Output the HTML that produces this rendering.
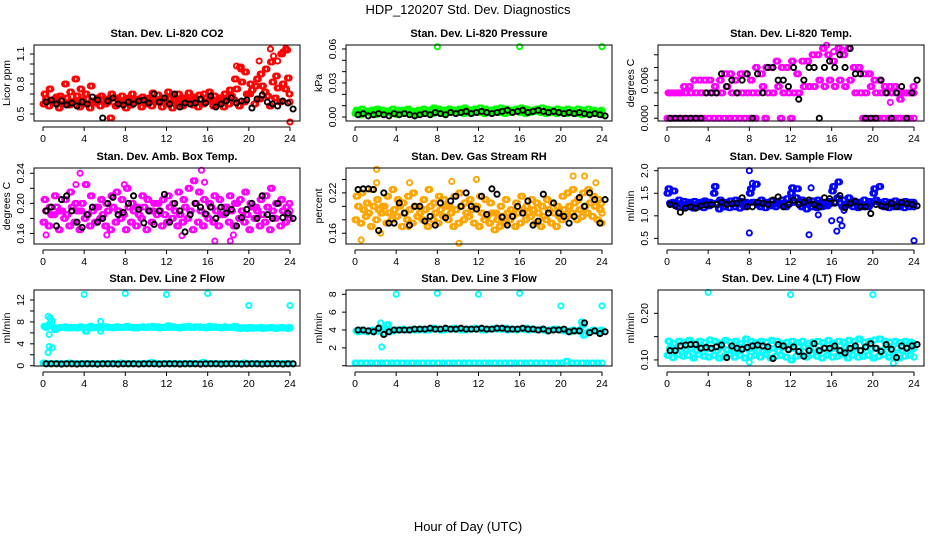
<!DOCTYPE html>
<html><head><meta charset="utf-8"><style>
html,body{margin:0;padding:0;background:#fff;}
svg{display:block;font-family:"Liberation Sans",Arial,sans-serif;}
</style></head><body>
<svg id="chart" width="936" height="540" viewBox="0 0 936 540">
<rect width="936" height="540" fill="#fff"/>
<text x="468" y="14" font-size="13" text-anchor="middle">HDP_120207  Std. Dev. Diagnostics</text>
<text x="468" y="531" font-size="13" text-anchor="middle">Hour of Day (UTC)</text>
<g id="plots"></g>
</svg>
<script>
const hoursA=[0,0.5,1,1.5,2,2.5,3,3.5,4,4.5,5,5.5,6,6.5,7,7.5,8,8.5,9,9.5,10,10.5,11,11.5,12,12.5,13,13.5,14,14.5,15,15.5,16,16.5,17,17.5,18,18.5,19,19.5,20,20.5,21,21.5,22,22.5,23,23.5,24];
const hoursB=[0.25,0.75,1.25,1.75,2.25,2.75,3.25,3.75,4.25,4.75,5.25,5.75,6.25,6.75,7.25,7.75,8.25,8.75,9.25,9.75,10.25,10.75,11.25,11.75,12.25,12.75,13.25,13.75,14.25,14.75,15.25,15.75,16.25,16.75,17.25,17.75,18.25,18.75,19.25,19.75,20.25,20.75,21.25,21.75,22.25,22.75,23.25,23.75,24];
const hoursC=[0.1,0.6,1.1,1.6,2.1,2.6,3.1,3.6,4.1,4.6,5.1,5.6,6.1,6.6,7.1,7.6,8.1,8.6,9.1,9.6,10.1,10.6,11.1,11.6,12.1,12.6,13.1,13.6,14.1,14.6,15.1,15.6,16.1,16.6,17.1,17.6,18.1,18.6,19.1,19.6,20.1,20.6,21.1,21.6,22.1,22.6,23.1,23.6,23.9];

// Panel 1: CO2
const co2Upper=[0.70,0.75,0.65,0.68,0.80,0.72,0.85,0.75,0.70,0.78,0.62,0.68,0.65,0.70,0.66,0.68,0.64,0.70,0.63,0.67,0.65,0.71,0.69,0.66,0.72,0.68,0.70,0.66,0.71,0.67,0.69,0.70,0.72,0.68,0.66,0.70,0.74,0.85,0.97,0.92,0.80,0.78,0.90,0.95,1.02,0.88,1.10,1.14,0.70];
const co2Lower=[0.60,0.58,0.62,0.56,0.60,0.59,0.63,0.57,0.60,0.56,0.61,0.58,0.60,0.46,0.58,0.61,0.56,0.59,0.62,0.57,0.60,0.58,0.62,0.57,0.60,0.56,0.61,0.58,0.62,0.59,0.57,0.60,0.63,0.58,0.61,0.57,0.60,0.64,0.58,0.62,0.70,0.60,0.65,0.72,0.58,0.66,0.62,0.75,0.42];
const co2Mid=[0.65,0.63,0.67,0.64,0.66,0.62,0.68,0.64,0.65,0.63,0.66,0.64,0.62,0.66,0.64,0.63,0.66,0.64,0.65,0.62,0.66,0.64,0.63,0.65,0.66,0.63,0.64,0.66,0.63,0.65,0.64,0.66,0.65,0.63,0.64,0.66,0.68,0.75,0.82,0.70,0.74,0.85,0.78,0.68,0.82,0.76,0.80,0.86,0.62];
const co2OutX=[22.1,22.4,22.8,23.3,23.6,18.8,19.2,21.0];
const co2OutY=[1.15,1.08,1.03,1.12,1.16,0.98,0.95,1.03];
const co2Black=[0.62,0.64,0.60,0.63,0.59,0.61,0.58,0.62,0.60,0.67,0.64,0.46,0.63,0.66,0.60,0.59,0.62,0.60,0.63,0.64,0.61,0.70,0.62,0.66,0.60,0.70,0.57,0.61,0.60,0.61,0.65,0.61,0.68,0.57,0.60,0.63,0.66,0.61,0.63,0.64,0.56,0.65,0.69,0.62,0.60,0.58,0.63,0.61,0.55];

// Panel 2: Pressure
const presUpper=[0.006,0.007,0.005,0.006,0.007,0.006,0.005,0.007,0.006,0.006,0.007,0.005,0.006,0.007,0.006,0.008,0.007,0.006,0.007,0.006,0.007,0.008,0.006,0.007,0.008,0.007,0.006,0.007,0.008,0.007,0.006,0.007,0.008,0.007,0.006,0.007,0.008,0.007,0.006,0.007,0.006,0.007,0.006,0.007,0.006,0.007,0.006,0.005,0.006];
const presLower=[0.003,0.002,0.004,0.003,0.002,0.003,0.004,0.003,0.002,0.003,0.004,0.003,0.002,0.003,0.004,0.003,0.004,0.003,0.004,0.005,0.004,0.003,0.004,0.005,0.004,0.003,0.004,0.005,0.004,0.003,0.004,0.005,0.004,0.003,0.004,0.005,0.004,0.003,0.004,0.003,0.004,0.003,0.004,0.003,0.002,0.003,0.004,0.003,0.002];
const presMid=[0.005,0.004,0.005,0.004,0.005,0.004,0.005,0.004,0.005,0.004,0.005,0.004,0.005,0.004,0.005,0.006,0.005,0.006,0.005,0.006,0.005,0.006,0.005,0.006,0.005,0.006,0.005,0.006,0.005,0.006,0.005,0.006,0.005,0.006,0.005,0.006,0.005,0.006,0.005,0.004,0.005,0.004,0.005,0.004,0.005,0.004,0.005,0.004,0.004];
const presOutX=[8,16,24];
const presOutY=[0.062,0.062,0.062];
const presBlack=[0.002,0.003,0.001,0.002,0.003,0.002,0.001,0.003,0.002,0.003,0.002,0.001,0.002,0.003,0.002,0.004,0.003,0.002,0.004,0.003,0.004,0.005,0.003,0.004,0.005,0.004,0.003,0.004,0.005,0.006,0.004,0.005,0.006,0.004,0.005,0.006,0.005,0.004,0.005,0.004,0.003,0.004,0.003,0.004,0.003,0.002,0.003,0.002,0.001];

// Panel 3: Li-820 Temp
const tempArch=[0.004,0.004,0.004,0.005,0.005,0.006,0.006,0.006,0.006,0.005,0.006,0.007,0.007,0.006,0.007,0.007,0.006,0.008,0.007,0.008,0.008,0.009,0.008,0.008,0.009,0.007,0.009,0.009,0.010,0.010,0.011,0.010,0.009,0.011,0.010,0.011,0.008,0.008,0.007,0.007,0.006,0.006,0.005,0.005,0.005,0.003,0.004,0.004,0.005];
const tempBase=[0.004,0.004,0.004,0.004,0.004,0.004,0.004,0.004,0.004,0.004,0.004,0.005,0.004,0.004,0.004,0.004,0.004,0.004,0.005,0.004,0.004,0.005,0.004,0.004,0.004,0.004,0.005,0.005,0.005,0.006,0.005,0.006,0.005,0.006,0.005,0.006,0.004,0.004,0.004,0.005,0.004,0.004,0.004,0.004,0.004,0.004,0.004,0.004,0.004];
const tempZero=[0,0,0,0,0,0,0,0,0,0,0,0,0,0,0,0,0,0,null,0,null,null,0,null,0,null,null,null,null,null,null,null,null,null,null,null,null,null,0,0,0,0,0,0,0,0,0,0,0];
const tempOutX=[21.7,16.2,15.5,17.0];
const tempOutY=[0.0025,0.0105,0.0115,0.0108];
const tempBlack=[0,0,0,0,0,0,0,0.004,0.004,0.004,0.007,0.005,0.006,0.004,0.006,0.007,0,0.007,0.004,0.008,0.008,0.006,0.006,0.005,0.008,0.003,0.006,0.008,0.008,0,0.008,0.009,0.008,0.010,0.008,0.011,0.007,0.007,0,0,0,0.006,0.004,0,0.004,0.005,0,0.004,0.006];

// Panel 4: Amb Box Temp
const ambUpper=[0.205,0.195,0.21,0.19,0.205,0.215,0.2,0.19,0.225,0.21,0.195,0.205,0.2,0.21,0.215,0.205,0.22,0.2,0.195,0.21,0.205,0.19,0.2,0.205,0.21,0.2,0.215,0.205,0.22,0.23,0.215,0.205,0.2,0.21,0.205,0.195,0.21,0.2,0.205,0.215,0.2,0.195,0.205,0.21,0.22,0.2,0.205,0.195,0.2];
const ambLower=[0.175,0.17,0.185,0.165,0.18,0.17,0.175,0.165,0.18,0.17,0.175,0.18,0.17,0.165,0.175,0.18,0.165,0.175,0.17,0.18,0.165,0.175,0.185,0.17,0.175,0.18,0.17,0.175,0.18,0.165,0.175,0.17,0.18,0.175,0.17,0.185,0.175,0.17,0.18,0.175,0.165,0.18,0.17,0.175,0.165,0.18,0.17,0.175,0.18];
const ambMid=[0.19,0.185,0.195,0.19,0.185,0.195,0.19,0.2,0.185,0.19,0.195,0.185,0.19,0.195,0.19,0.185,0.195,0.19,0.185,0.195,0.19,0.2,0.19,0.185,0.195,0.19,0.185,0.195,0.19,0.2,0.19,0.185,0.195,0.19,0.185,0.195,0.19,0.2,0.19,0.185,0.195,0.19,0.185,0.195,0.19,0.2,0.19,0.185,0.19];
const ambOutX=[0.3,3.2,3.6,15.4,15.7,16.7,13.5,18.2,18.5,7.9,6.2];
const ambOutY=[0.158,0.225,0.24,0.244,0.228,0.15,0.157,0.15,0.158,0.225,0.158];
const ambBlack=[0.19,0.195,0.17,0.205,0.21,0.19,0.175,0.168,0.185,0.195,0.175,0.18,0.2,0.208,0.185,0.188,0.2,0.21,0.192,0.174,0.19,0.172,0.19,0.212,0.175,0.2,0.19,0.162,0.185,0.2,0.195,0.186,0.195,0.18,0.195,0.187,0.192,0.17,0.181,0.192,0.2,0.18,0.21,0.185,0.18,0.2,0.181,0.187,0.18];

// Panel 5: Gas Stream RH
const rhUpper=[0.215,0.22,0.205,0.225,0.21,0.2,0.215,0.225,0.21,0.205,0.215,0.22,0.2,0.21,0.225,0.205,0.215,0.21,0.2,0.215,0.22,0.205,0.21,0.2,0.215,0.21,0.205,0.19,0.2,0.21,0.195,0.205,0.215,0.2,0.21,0.205,0.2,0.21,0.205,0.2,0.215,0.22,0.225,0.21,0.22,0.225,0.215,0.21,0.205];
const rhLower=[0.18,0.175,0.185,0.17,0.18,0.19,0.175,0.18,0.185,0.17,0.18,0.175,0.185,0.18,0.17,0.18,0.175,0.185,0.18,0.17,0.175,0.18,0.185,0.175,0.17,0.18,0.175,0.165,0.17,0.175,0.18,0.17,0.175,0.18,0.185,0.175,0.17,0.18,0.175,0.17,0.18,0.185,0.19,0.18,0.185,0.19,0.185,0.18,0.175];
const rhMid=[0.2,0.195,0.19,0.2,0.195,0.2,0.19,0.195,0.2,0.19,0.195,0.2,0.19,0.195,0.2,0.19,0.195,0.2,0.19,0.195,0.2,0.19,0.195,0.2,0.19,0.185,0.19,0.18,0.185,0.19,0.185,0.19,0.195,0.19,0.195,0.19,0.185,0.195,0.19,0.185,0.195,0.2,0.205,0.195,0.2,0.205,0.2,0.195,0.19];
const rhOutX=[0.6,2.1,2.1,5.3,9.4,11.8,10.1,22.3,21.2,23.4,5.2,2.5];
const rhOutY=[0.15,0.255,0.235,0.235,0.237,0.24,0.145,0.245,0.245,0.235,0.17,0.16];
const rhBlack=[0.225,0.226,0.226,0.225,0.164,0.22,0.175,0.175,0.205,0.19,0.172,0.2,0.2,0.178,0.185,0.172,0.205,0.183,0.208,0.215,0.2,0.22,0.2,0.196,0.215,0.188,0.226,0.218,0.184,0.172,0.185,0.2,0.19,0.208,0.172,0.178,0.218,0.19,0.205,0.19,0.185,0.175,0.185,0.213,0.2,0.22,0.21,0.175,0.21];

// Panel 6: Sample Flow
const sfUpper=[1.6,1.55,1.35,1.32,1.3,1.32,1.3,1.33,1.3,1.65,1.35,1.3,1.33,1.35,1.32,1.3,1.6,1.7,1.35,1.3,1.33,1.32,1.35,1.38,1.62,1.6,1.35,1.3,1.33,1.35,1.3,1.32,1.65,1.75,1.35,1.4,1.33,1.3,1.35,1.32,1.6,1.65,1.32,1.3,1.33,1.3,1.32,1.3,1.3];
const sfLower=[1.5,1.3,1.2,1.18,1.2,1.17,1.2,1.18,1.22,1.5,1.15,1.2,1.18,1.2,1.17,1.2,1.5,1.3,1.2,1.18,1.22,1.2,1.25,1.2,1.5,1.4,1.2,1.15,1.2,1.18,1.2,1.22,1.55,1.4,1.2,1.25,1.2,1.18,1.2,1.2,1.5,1.3,1.2,1.18,1.2,1.2,1.18,1.2,1.2];
const sfMid=[1.28,1.25,1.27,1.26,1.28,1.25,1.27,1.3,1.25,1.28,1.25,1.27,1.26,1.28,1.25,1.27,1.3,1.25,1.28,1.26,1.25,1.27,1.28,1.26,1.3,1.28,1.25,1.27,1.26,1.28,1.25,1.27,1.3,1.28,1.25,1.27,1.28,1.26,1.25,1.27,1.35,1.28,1.25,1.27,1.26,1.28,1.25,1.27,1.25];
const sfOutX=[8,8,8.3,13.8,14,14.7,16,16.5,16.8,17,17.2,24];
const sfOutY=[0.62,2.0,1.72,0.58,1.62,1.02,0.89,0.66,0.91,0.78,1.12,0.45];
const sfBlack=[1.25,1.22,1.08,1.17,1.2,1.17,1.22,1.24,1.25,1.25,1.3,1.25,1.27,1.28,1.4,1.2,1.2,1.3,1.28,1.25,1.35,1.42,1.2,1.25,1.35,1.25,1.3,1.35,1.25,1.2,1.4,1.38,1.28,1.45,1.18,1.28,1.32,1.2,1.2,1.05,1.25,1.22,1.2,1.28,1.2,1.3,1.27,1.25,1.22];

// Panel 7: Line 2 Flow
const l2High=[7.2,7.6,6.6,7,7.1,6.9,7,7.1,6.3,7.2,7,6.9,7.1,7,7.1,7,7.2,7,6.9,7.1,7,7.2,7.1,7,7.3,7.1,7,7.1,7.2,7,7.1,7,7.2,7.1,7,7.1,7,7.2,6.8,6.9,7,6.9,7,6.9,7,6.8,7,6.9,7];
const l2Low=[0.5,0.4,0.4,0.4,0.4,0.5,0.4,0.4,0.4,0.4,0.4,0.4,0.4,0.4,0.4,0.5,0.4,0.4,0.4,0.4,0.4,0.6,0.4,0.4,0.4,0.4,0.4,0.4,0.4,0.4,0.4,0.6,0.4,0.4,0.4,0.4,0.4,0.4,0.4,0.5,0.4,0.4,0.4,0.4,0.4,0.4,0.4,0.4,0.4];
const l2Mid=[7.0,7.3,6.8,7.0,6.9,7.0,6.9,7.0,7.0,6.9,7.0,7.1,7.0,6.9,7.0,7.0,7.0,6.9,7.0,7.0,7.1,7.0,6.9,7.0,7.0,7.0,6.9,7.0,7.0,7.1,7.0,6.9,7.0,7.0,6.9,7.0,7.0,6.9,6.9,6.8,6.9,6.9,6.8,6.9,6.9,6.9,6.9,6.8,6.9];
const l2OutX=[4,8,12,16,20,24,0.5,0.7,0.9,0.6,0.6,0.5,0.9,5.6,5.6];
const l2OutY=[13,13.2,13,13.2,11,11,9,8.7,8.2,5.7,3.5,2.4,3.3,6.3,8.1];
const l2Black=[0.35,0.35,0.35,0.3,0.35,0.35,0.3,0.35,0.35,0.35,0.3,0.35,0.35,0.35,0.3,0.35,0.35,0.35,0.3,0.35,0.35,0.35,0.3,0.35,0.35,0.35,0.3,0.35,0.35,0.35,0.3,0.35,0.35,0.35,0.3,0.35,0.35,0.35,0.3,0.35,0.35,0.35,0.3,0.35,0.35,0.35,0.3,0.35,0.35];

// Panel 8: Line 3 Flow
const l3High=[3.9,4.0,3.8,4.0,3.9,4.1,4.6,3.9,4.0,4.1,4.0,4.1,4.0,4.1,4.0,4.2,4.1,4.0,4.1,4.2,4.1,4.0,4.1,4.2,4.1,4.0,4.1,4.2,4.1,4.2,4.1,4.0,4.1,4.2,4.1,4.0,4.1,3.9,4.0,4.1,4.0,3.9,4.0,3.9,4.6,3.8,4.0,3.9,4.0];
const l3Low=[0.3,0.3,0.3,0.3,0.3,0.3,0.3,0.3,0.3,0.3,0.3,0.3,0.3,0.3,0.3,0.3,0.3,0.3,0.3,0.3,0.3,0.3,0.3,0.3,0.3,0.3,0.3,0.3,0.3,0.3,0.3,0.3,0.3,0.3,0.3,0.3,0.3,0.3,0.3,0.3,0.3,0.5,0.3,0.3,0.3,0.3,0.3,0.3,0.3];
const l3Mid=[3.8,3.9,3.9,3.8,4.0,3.6,3.8,4.0,4.0,4.0,4.0,4.0,4.1,4.0,4.1,4.1,4.0,4.1,4.1,4.1,4.0,4.1,4.1,4.1,4.0,4.1,4.1,4.1,4.1,4.0,4.1,4.1,4.1,4.0,4.1,4.0,4.0,4.0,4.1,4.0,3.9,3.8,3.9,4.0,3.5,3.8,3.9,3.8,3.9];
const l3OutX=[4,8,12,16,20,24,2.6,2.5,22,22.2];
const l3OutY=[8,8.1,8,8.1,6.7,6.7,2.1,4.8,4.9,3.4];
const l3Black=[4.0,4.0,3.9,3.8,4.2,3.5,3.8,4.0,4.0,4.0,4.0,4.1,4.1,4.1,4.2,4.1,4.1,4.2,4.1,4.1,4.2,4.1,4.1,4.1,4.2,4.1,4.1,4.2,4.2,4.1,4.1,4.1,4.2,4.1,4.1,4.0,4.1,3.9,4.0,4.0,4.1,3.8,3.9,3.9,4.8,3.7,3.9,3.6,3.8];

// Panel 9: Line 4 (LT) Flow
const l4Upper=[0.14,0.135,0.14,0.138,0.142,0.135,0.14,0.137,0.143,0.14,0.135,0.142,0.138,0.14,0.135,0.145,0.14,0.137,0.14,0.138,0.142,0.14,0.135,0.138,0.14,0.137,0.14,0.135,0.138,0.14,0.137,0.142,0.136,0.14,0.138,0.142,0.14,0.145,0.138,0.14,0.143,0.145,0.14,0.138,0.14,0.137,0.14,0.138,0.135];
const l4Lower=[0.11,0.105,0.112,0.108,0.11,0.104,0.112,0.108,0.106,0.11,0.104,0.108,0.112,0.106,0.11,0.104,0.108,0.11,0.106,0.112,0.104,0.108,0.11,0.106,0.1,0.108,0.11,0.106,0.112,0.108,0.104,0.11,0.106,0.108,0.112,0.104,0.11,0.106,0.108,0.11,0.104,0.108,0.112,0.106,0.11,0.104,0.108,0.11,0.106];
const l4Mid=[0.125,0.12,0.128,0.122,0.125,0.12,0.127,0.123,0.125,0.12,0.128,0.122,0.125,0.12,0.127,0.123,0.125,0.12,0.128,0.122,0.125,0.12,0.127,0.123,0.125,0.12,0.128,0.122,0.125,0.12,0.127,0.123,0.125,0.12,0.128,0.122,0.125,0.12,0.127,0.123,0.125,0.12,0.128,0.122,0.125,0.12,0.127,0.123,0.125];
const l4OutX=[4,12,20,22,0.2,8];
const l4OutY=[0.245,0.24,0.24,0.093,0.14,0.095];
const l4Black=[0.12,0.12,0.13,0.132,0.133,0.133,0.125,0.127,0.125,0.128,0.132,0.105,0.13,0.125,0.123,0.127,0.13,0.132,0.13,0.128,0.103,0.133,0.13,0.122,0.128,0.118,0.108,0.12,0.135,0.12,0.125,0.125,0.13,0.12,0.115,0.125,0.13,0.12,0.128,0.135,0.125,0.118,0.133,0.123,0.105,0.13,0.125,0.13,0.133];

const xTicks=[0,4,8,12,16,20,24];

const panels=[
 {id:'co2',title:'Stan. Dev. Li-820 CO2',ylab:'Licor ppm',col:0,row:0,color:'#ff0000',yMin:0.43,yMax:1.19,ticks:[0.5,0.6,0.7,0.8,0.9,1.0,1.1],labels:{'0.5':'0.5','0.8':'0.8','1.1':'1.1'},layers:[co2Lower,co2Mid,co2Upper],ox:co2OutX,oy:co2OutY,black:co2Black},
 {id:'pressure',title:'Stan. Dev. Li-820 Pressure',ylab:'kPa',col:1,row:0,color:'#00ff00',yMin:-0.0035,yMax:0.0635,ticks:[0,0.01,0.02,0.03,0.04,0.05,0.06],labels:{'0':'0.00','0.03':'0.03','0.06':'0.06'},layers:[presLower,presMid,presUpper],ox:presOutX,oy:presOutY,black:presBlack},
 {id:'li820-temp',title:'Stan. Dev. Li-820 Temp.',ylab:'degrees C',col:2,row:0,color:'#ff00ff',yMin:-0.00043,yMax:0.01154,ticks:[0,0.002,0.004,0.006,0.008,0.01],labels:{'0':'0.000','0.006':'0.006'},layers:[tempZero,tempBase,tempArch],ox:tempOutX,oy:tempOutY,black:tempBlack},
 {id:'amb-temp',title:'Stan. Dev. Amb. Box Temp.',ylab:'degrees C',col:0,row:1,color:'#ff00ff',yMin:0.146,yMax:0.247,ticks:[0.16,0.18,0.2,0.22,0.24],labels:{'0.16':'0.16','0.2':'0.20','0.24':'0.24'},layers:[ambLower,ambMid,ambUpper],ox:ambOutX,oy:ambOutY,black:ambBlack},
 {id:'rh',title:'Stan. Dev. Gas Stream RH',ylab:'percent',col:1,row:1,color:'#ffa500',yMin:0.144,yMax:0.257,ticks:[0.16,0.18,0.2,0.22,0.24],labels:{'0.16':'0.16','0.22':'0.22'},layers:[rhLower,rhMid,rhUpper],ox:rhOutX,oy:rhOutY,black:rhBlack},
 {id:'sample-flow',title:'Stan. Dev. Sample Flow',ylab:'ml/min',col:2,row:1,color:'#0000ff',yMin:0.375,yMax:2.06,ticks:[0.5,1.0,1.5,2.0],labels:{'0.5':'0.5','1':'1.0','1.5':'1.5','2':'2.0'},layers:[sfLower,sfMid,sfUpper],ox:sfOutX,oy:sfOutY,black:sfBlack},
 {id:'line2-flow',title:'Stan. Dev. Line 2 Flow',ylab:'ml/min',col:0,row:2,color:'#00ffff',yMin:-0.05,yMax:13.83,ticks:[0,2,4,6,8,10,12],labels:{'0':'0','4':'4','8':'8','12':'12'},layers:[l2Low,l2Mid,l2High],ox:l2OutX,oy:l2OutY,black:l2Black},
 {id:'line3-flow',title:'Stan. Dev. Line 3 Flow',ylab:'ml/min',col:1,row:2,color:'#00ffff',yMin:-0.03,yMax:8.48,ticks:[0,2,4,6,8],labels:{'2':'2','4':'4','6':'6','8':'8'},layers:[l3Low,l3Mid,l3High],ox:l3OutX,oy:l3OutY,black:l3Black},
 {id:'line4-flow',title:'Stan. Dev. Line 4 (LT) Flow',ylab:'ml/min',col:2,row:2,color:'#00ffff',yMin:0.087,yMax:0.25,ticks:[0.1,0.15,0.2],labels:{'0.1':'0.10','0.2':'0.20'},layers:[l4Lower,l4Mid,l4Upper],ox:l4OutX,oy:l4OutY,black:l4Black}
];
const layerHours=[hoursA,hoursB,hoursC];
const repeatShift=[0,0.17];

const NS='http://www.w3.org/2000/svg';
const root=document.getElementById('plots');
function mk(tag,attrs,parent){const e=document.createElementNS(NS,tag);for(const k in attrs)e.setAttribute(k,attrs[k]);parent.appendChild(e);return e;}

panels.forEach(p=>{
  const L=34+p.col*312, R=L+266, T=[45,168,290][p.row], B=T+76;
  const X0=L+9, X24=L+256;
  const xs=h=>X0+h*(X24-X0)/24;
  const ys=v=>B-(v-p.yMin)/(p.yMax-p.yMin)*(B-T);
  const g=mk('g',{},root);
  
  
  const t=mk('text',{x:(L+R)/2,y:T-8,'font-size':11,'font-weight':'bold','text-anchor':'middle'},g);
  t.textContent=p.title;
  
  
  const pts=mk('g',{fill:'none','stroke-width':1.9},g);
  
  
  p.layers.forEach((arr,li)=>{
    const hrs=layerHours[li];
    repeatShift.forEach(s=>{
      arr.forEach((v,i)=>{
        if(v===null)return;
        const hh=Math.min(24,hrs[i]+s);
        const c=mk('circle',{cx:xs(hh),cy:ys(v),r:2.6,stroke:p.color},pts);
        
        
      });
    });
  });
  p.ox.forEach((h,i)=>{
    const c=mk('circle',{cx:xs(h),cy:ys(p.oy[i]),r:2.6,stroke:p.color},pts);
    
    
  });
  p.black.forEach((v,i)=>{
    if(v===null)return;
    const c=mk('circle',{cx:xs(hoursA[i]+0.3),cy:ys(v),r:2.6,stroke:'#000'},pts);
    
    
  });
  const box=mk('rect',{x:L,y:T,width:R-L,height:B-T,fill:'none',stroke:'#000','stroke-width':1},g);
  
  
  const ya=mk('g',{stroke:'#000','stroke-width':1},g);
  
  
  mk('line',{x1:L,x2:L,y1:ys(p.ticks[0]),y2:ys(p.ticks[p.ticks.length-1])},ya);
  p.ticks.forEach(v=>{
    const y=ys(v);
    mk('line',{x1:L-4,x2:L,y1:y,y2:y},ya);
    const lab=p.labels[String(v)];
    if(lab){
      const tx=mk('text',{x:0,y:0,'font-size':10.5,'text-anchor':'middle',stroke:'none',fill:'#000',transform:`translate(${L-10},${y}) rotate(-90)`},g);
      tx.textContent=lab;
      
      
    }
  });
  const yt=mk('text',{x:0,y:0,'font-size':10.5,'text-anchor':'middle',transform:`translate(${L-24},${(T+B)/2}) rotate(-90)`},g);
  yt.textContent=p.ylab;
  
  
  const xa=mk('g',{stroke:'#000','stroke-width':1},g);
  
  
  mk('line',{x1:xs(0),x2:xs(24),y1:B+6,y2:B+6},xa);
  xTicks.forEach(h=>{
    mk('line',{x1:xs(h),x2:xs(h),y1:B+6,y2:B+10},xa);
    const tx=mk('text',{x:xs(h),y:B+21,'font-size':10.5,'text-anchor':'middle'},g);
    tx.textContent=h;
    
    
  });
});
</script>
</body></html>
